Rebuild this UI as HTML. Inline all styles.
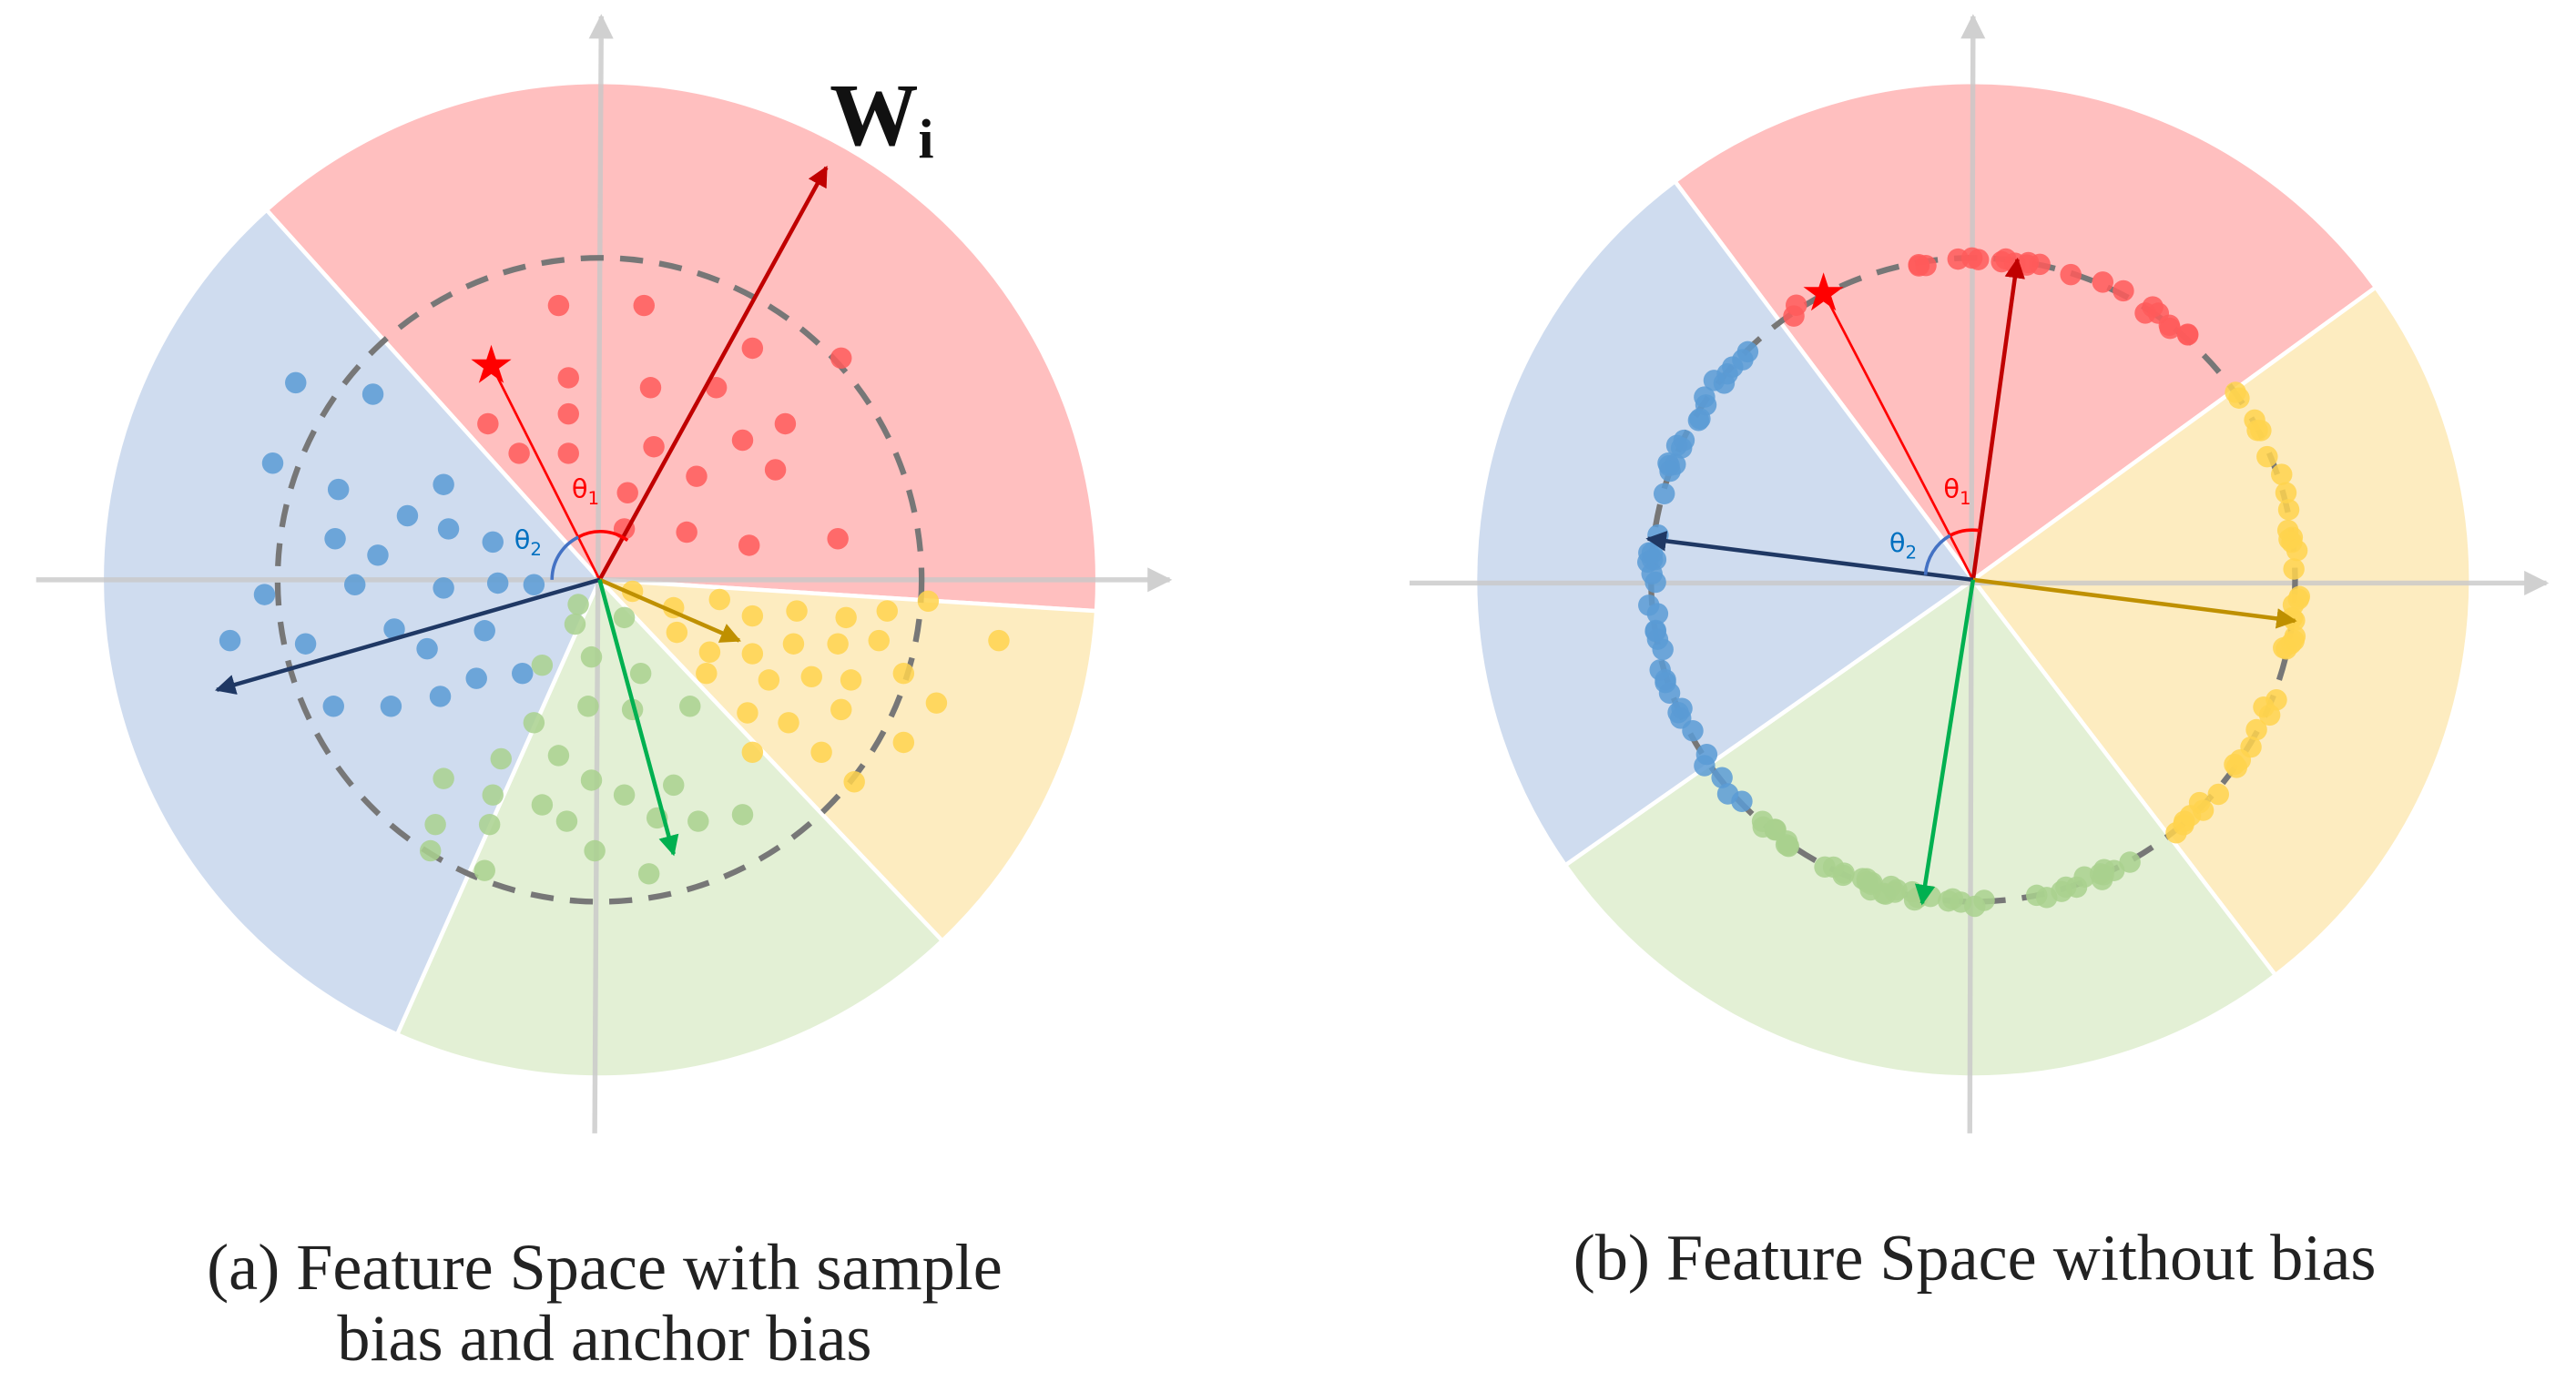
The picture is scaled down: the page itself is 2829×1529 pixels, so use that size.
<!DOCTYPE html>
<html><head><meta charset="utf-8"><style>
html,body{margin:0;padding:0;background:#fff;}
svg{display:block;}
</style></head><body>
<svg id="s" width="2829" height="1529" viewBox="0 0 1568 847.5" preserveAspectRatio="none" xmlns="http://www.w3.org/2000/svg">
<defs>
<marker id="mr" viewBox="0 0 10 10" refX="9" refY="5" markerWidth="5" markerHeight="5" orient="auto"><path d="M0,0L10,5L0,10z" fill="#c00000"/></marker>
<marker id="mn" viewBox="0 0 10 10" refX="9" refY="5" markerWidth="5" markerHeight="5" orient="auto"><path d="M0,0L10,5L0,10z" fill="#1f3864"/></marker>
<marker id="my" viewBox="0 0 10 10" refX="9" refY="5" markerWidth="5" markerHeight="5" orient="auto"><path d="M0,0L10,5L0,10z" fill="#bf9000"/></marker>
<marker id="mg" viewBox="0 0 10 10" refX="9" refY="5" markerWidth="5" markerHeight="5" orient="auto"><path d="M0,0L10,5L0,10z" fill="#00b050"/></marker>
<marker id="ma" viewBox="0 0 10 10" refX="9" refY="5" markerWidth="5" markerHeight="5" orient="auto"><path d="M0,0L10,5L0,10z" fill="#d0d0d0"/></marker>
</defs>
<g id="g"></g>
<text x="368" y="785" font-family="Liberation Serif, serif" font-size="40" text-anchor="middle" fill="#222">(a) Feature Space with sample</text>
<text x="368" y="828" font-family="Liberation Serif, serif" font-size="40" text-anchor="middle" fill="#222">bias and anchor bias</text>
<text x="1202" y="779" font-family="Liberation Serif, serif" font-size="40" text-anchor="middle" fill="#222">(b) Feature Space without bias</text>
</svg>
<script>
var g=document.getElementById('g'),h='';
function P(cx,cy,r,a){a=a*Math.PI/180;return [cx+r*Math.cos(a),cy-r*Math.sin(a)];}
function sec(cx,cy,r,a1,a2,col){var p1=P(cx,cy,r,a1),p2=P(cx,cy,r,a2);var span=a2-a1;if(span<0)span+=360;
h+='<path d="M'+cx+','+cy+'L'+p1[0]+','+p1[1]+'A'+r+','+r+' 0 '+(span>180?1:0)+' 0 '+p2[0]+','+p2[1]+'Z" fill="'+col+'" stroke="#fff" stroke-width="2.5"/>';}
var R='#ffbfbf',B='#cfdcef',Y='#fdecc0',G='#e3f0d5';
sec(365,353,303,-3.6,132,R);sec(365,353,303,-46.5,-3.6,Y);sec(365,353,303,-114,-46.5,G);sec(365,353,303,132,246,B);
sec(1201,353,303,36,126.8,R);sec(1201,353,303,-52.6,36,Y);sec(1201,353,303,-145,-52.6,G);sec(1201,353,303,126.8,215,B);
function ax(x1,y1,x2,y2){h+='<line x1="'+x1+'" y1="'+y1+'" x2="'+x2+'" y2="'+y2+'" stroke="#c8c8c8" stroke-opacity="0.8" stroke-width="3" marker-end="url(#ma)"/>';}
ax(22,353,712,353);ax(362,690,366,10);ax(858,355,1550,355);ax(1199,690,1201,10);
h+='<circle cx="365" cy="353" r="196" fill="none" stroke="#777" stroke-width="3.5" stroke-dasharray="14 10"/>';
h+='<circle cx="1201" cy="353" r="196" fill="none" stroke="#777" stroke-width="3.5" stroke-dasharray="14 10"/>';
function dots(list,col){for(var i=0;i<list.length;i++)h+='<circle cx="'+list[i][0]+'" cy="'+list[i][1]+'" r="6.5" fill="'+col+'" fill-opacity="0.85"/>';}
var rc='#ff5a5a',bc='#5b9bd5',yc='#ffd34d',gc='#a9d18e';
dots([[340,186],[392,186],[458,212],[512,218],[297,258],[346,230],[396,236],[436,236],[346,252],[478,258],[316,276],[346,276],[398,272],[452,268],[424,290],[472,286],[382,300],[418,324],[456,332],[510,328],[380,322]],rc);
dots([[180,233],[227,240],[166,282],[206,298],[270,295],[248,314],[204,328],[273,322],[230,338],[300,330],[325,356],[161,362],[216,356],[270,358],[303,355],[140,390],[186,392],[240,383],[295,384],[260,395],[203,430],[238,430],[268,424],[290,413],[318,410]],bc);
dots([[385,360],[410,370],[438,365],[458,375],[485,372],[515,376],[540,372],[565,366],[412,385],[432,397],[458,398],[483,392],[510,392],[535,390],[608,390],[430,410],[468,414],[494,412],[518,414],[550,410],[455,434],[480,440],[512,432],[570,428],[458,458],[500,458],[550,452],[520,476]],yc);
dots([[352,368],[350,380],[380,376],[330,405],[360,400],[390,410],[325,440],[358,430],[385,432],[420,430],[305,462],[340,460],[360,475],[380,484],[410,478],[270,474],[300,484],[330,490],[400,498],[425,500],[452,496],[265,502],[298,502],[345,500],[362,518],[395,532],[295,530],[262,518]],gc);
var seed=7;function rnd(){seed=(seed*9301+49297)%233280;return seed/233280;}
function ring(a1,a2,n,col){var l=[];for(var i=0;i<n;i++){var a=a1+(a2-a1)*rnd();var r=196+(rnd()-0.5)*6;l.push(P(1201,353,r,a));}dots(l,col);}
ring(42,128,24,rc);ring(134,228,45,bc);ring(-52,38,40,yc);ring(-135,-58,45,gc);
function arr(x1,y1,x2,y2,c,m,w){h+='<line x1="'+x1+'" y1="'+y1+'" x2="'+x2+'" y2="'+y2+'" stroke="'+c+'" stroke-width="'+w+'"'+(m?' marker-end="url(#'+m+')"':'')+'/>';}
arr(365,353,299,222,'#ff0000',null,1.5);
arr(365,353,503,102,'#c00000','mr',2.5);
arr(365,353,132,420,'#1f3864','mn',2.5);
arr(365,353,450,390,'#bf9000','my',2.5);
arr(365,353,410,520,'#00b050','mg',2.5);
h+='<path d="M352,327A28,28 0 0 1 382,329" fill="none" stroke="#ff0000" stroke-width="2"/>';
h+='<path d="M336,353A29,29 0 0 1 352,327" fill="none" stroke="#4472c4" stroke-width="2"/>';
h+='<text x="348" y="303" font-family="DejaVu Sans, sans-serif" font-size="16" fill="#ff0000">θ<tspan font-size="11" dy="4">1</tspan></text>';
h+='<text x="313" y="334" font-family="DejaVu Sans, sans-serif" font-size="16" fill="#0070c0">θ<tspan font-size="11" dy="4">2</tspan></text>';
h+='<text x="505" y="88" font-family="Liberation Serif, serif" font-weight="bold" font-size="54" fill="#111">W<tspan font-size="34" dy="8">i</tspan></text>';
h+='<text x="299" y="233" font-size="32" text-anchor="middle" fill="#ff0000" font-family="DejaVu Sans, sans-serif">★</text>';
arr(1201,353,1110,178,'#ff0000',null,1.5);
arr(1201,353,1228,158,'#c00000','mr',2.5);
arr(1201,353,1003,328,'#1f3864','mn',2.5);
arr(1201,353,1397,378,'#bf9000','my',2.5);
arr(1201,353,1170,550,'#00b050','mg',2.5);
h+='<path d="M1187,326A30,30 0 0 1 1205,323" fill="none" stroke="#ff0000" stroke-width="2"/>';
h+='<path d="M1172,350A30,30 0 0 1 1187,326" fill="none" stroke="#4472c4" stroke-width="2"/>';
h+='<text x="1183" y="303" font-family="DejaVu Sans, sans-serif" font-size="16" fill="#ff0000">θ<tspan font-size="11" dy="4">1</tspan></text>';
h+='<text x="1150" y="336" font-family="DejaVu Sans, sans-serif" font-size="16" fill="#0070c0">θ<tspan font-size="11" dy="4">2</tspan></text>';
h+='<text x="1110" y="189" font-size="32" text-anchor="middle" fill="#ff0000" font-family="DejaVu Sans, sans-serif">★</text>';
g.innerHTML=h;
</script>
</body></html>
